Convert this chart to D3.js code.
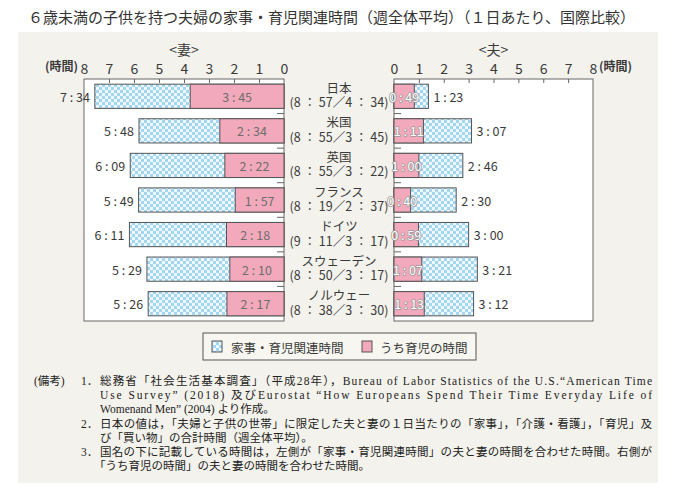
<!DOCTYPE html>
<html>
<head><meta charset="utf-8">
<title>家事・育児関連時間 国際比較</title>
<style>
body { margin:0; background:#fff; }
svg text { font-family:"Noto Sans CJK JP","Noto Sans",sans-serif; }
.note { font-family:"Liberation Serif","Noto Sans CJK JP",serif; }
</style>
</head>
<body>
<svg width="690" height="489"></svg>
<script src="https://d3js.org/d3.v7.min.js"></script>
<script>
// 国名と、その下の合計（家事・育児関連時間 / うち育児の時間）
var countries = ["日本", "米国", "英国", "フランス", "ドイツ", "スウェーデン", "ノルウェー"];
var coupleSums = ["8：57／4：34", "8：55／3：45", "8：55／3：22", "8：19／2：37",
                  "9：11／3：17", "8：50／3：17", "8：38／3：30"];
// 妻
var wifeTotal = ["7:34", "5:48", "6:09", "5:49", "6:11", "5:29", "5:26"];
var wifeChild = ["3:45", "2:34", "2:22", "1:57", "2:18", "2:10", "2:17"];
// 夫
var husbandTotal = ["1:23", "3:07", "2:46", "2:30", "3:00", "3:21", "3:12"];
var husbandChild = ["0:49", "1:11", "1:00", "0:40", "0:59", "1:07", "1:13"];
var hourTicks = [0, 1, 2, 3, 4, 5, 6, 7, 8];
var legendLabels = ["家事・育児関連時間", "うち育児の時間"];

var notes = [
  {num: "1．", text: "総務省「社会生活基本調査」（平成28年），Bureau of Labor Statistics of the U.S.“American Time", full: true},
  {num: "", text: "Use Survey” (2018) 及びEurostat “How Europeans Spend Their Time Everyday Life of", full: true},
  {num: "", text: "Womenand Men” (2004) より作成。", full: false},
  {num: "2．", text: "日本の値は，「夫婦と子供の世帯」に限定した夫と妻の１日当たりの「家事」，「介護・看護」，「育児」及", full: true},
  {num: "", text: "び「買い物」の合計時間（週全体平均）。", full: false},
  {num: "3．", text: "国名の下に記載している時間は，左側が「家事・育児関連時間」の夫と妻の時間を合わせた時間。右側が", full: true},
  {num: "", text: "「うち育児の時間」の夫と妻の時間を合わせた時間。", full: false, indent: -6}
];

function hours(s) { var p = s.split(":"); return +p[0] + p[1] / 60; }
function label(s) { var p = s.split(":"); return p[0] + " : " + p[1]; }

var pink = "#f2a9bb", edge = "#555", txt = "#3a3a3a";

var svg = d3.select("svg");
var defs = svg.append("defs");
var pat = defs.append("pattern").attr("id", "chk")
  .attr("width", 6).attr("height", 6).attr("patternUnits", "userSpaceOnUse");
pat.append("rect").attr("width", 6).attr("height", 6).attr("fill", "#eef8fe");
pat.append("rect").attr("width", 3).attr("height", 3).attr("fill", "#a3d6f1");
pat.append("rect").attr("x", 3).attr("y", 3).attr("width", 3).attr("height", 3).attr("fill", "#a3d6f1");

// panel
svg.append("rect").attr("x", 18).attr("y", 32).attr("width", 640).attr("height", 451)
  .attr("fill", "#f4f2ec");

svg.append("text").attr("x", 28).attr("y", 23).attr("font-size", 15).attr("fill", "#333")
  .text("６歳未満の子供を持つ夫婦の家事・育児関連時間（週全体平均）（１日あたり、国際比較）");

var plotTop = 79, plotBottom = 321;
var xW = d3.scaleLinear().domain([0, 8]).range([284, 84]);
var xH = d3.scaleLinear().domain([0, 8]).range([394, 593]);
var y = d3.scaleBand().domain(countries).range([plotTop, plotBottom])
  .paddingInner(0.3).paddingOuter(0.15);

function panel(x, title, unitX, unitAnchor) {
  var r = x.range();
  var x0 = Math.min(r[0], r[1]), x1 = Math.max(r[0], r[1]);
  svg.append("rect").attr("x", x0).attr("y", plotTop).attr("width", x1 - x0).attr("height", plotBottom - plotTop)
    .attr("fill", "#fff").attr("stroke", "#666").attr("stroke-width", 1);

  // hour labels
  var lab = svg.append("g").attr("transform", "translate(0," + (plotTop - 5) + ")")
    .call(d3.axisTop(x).tickValues(hourTicks).tickSize(0).tickPadding(0).tickFormat(d3.format("d")));
  lab.select(".domain").remove();
  lab.attr("font-family", null);
  lab.selectAll("text").attr("font-size", 14).attr("fill", txt);

  // inner ticks
  var tk = svg.append("g").attr("transform", "translate(0," + plotTop + ")")
    .call(d3.axisBottom(x).tickValues(hourTicks.slice(1, -1)).tickSize(4).tickFormat(""));
  tk.select(".domain").remove();
  tk.selectAll("line").attr("stroke", "#666");

  svg.append("text").attr("x", (x0 + x1) / 2).attr("y", 55).attr("text-anchor", "middle")
    .attr("font-size", 14).attr("fill", txt).text(title);
  svg.append("text").attr("x", unitX).attr("y", 71).attr("text-anchor", unitAnchor)
    .attr("font-size", 12).attr("font-weight", "bold").attr("fill", txt).text("(時間)");

  // band boundary ticks on the zero line
  var dir = x(1) > x(0) ? 1 : -1;
  svg.append("g").selectAll("line").data(countries.slice(1)).join("line")
    .attr("x1", x(0)).attr("x2", x(0) + dir * 7)
    .attr("y1", function(d) { return y(d) - y.step() * y.paddingInner() / 2; })
    .attr("y2", function(d) { return y(d) - y.step() * y.paddingInner() / 2; })
    .attr("stroke", "#666");
}

panel(xW, "<妻>", 78, "end");
panel(xH, "<夫>", 599, "start");

function bars(x, total, child, side) {
  var g = svg.append("g");
  var dir = x(1) > x(0) ? 1 : -1;
  countries.forEach(function(c, i) {
    var t = hours(total[i]), k = hours(child[i]);
    var yb = y(c), h = y.bandwidth();
    g.append("rect").attr("x", Math.min(x(0), x(t))).attr("y", yb)
      .attr("width", Math.abs(x(t) - x(0))).attr("height", h)
      .attr("fill", "url(#chk)").attr("stroke", edge);
    g.append("rect").attr("x", Math.min(x(0), x(k))).attr("y", yb)
      .attr("width", Math.abs(x(k) - x(0))).attr("height", h)
      .attr("fill", pink).attr("stroke", edge);
    g.append("text").attr("x", x(t) + dir * 5).attr("y", yb + h / 2)
      .attr("dominant-baseline", "central").attr("text-anchor", dir > 0 ? "start" : "end")
      .attr("font-size", 12.5).attr("fill", txt).text(label(total[i]));
    var inner = g.append("text").attr("x", (x(0) + x(k)) / 2).attr("y", yb + h / 2)
      .attr("dominant-baseline", "central").attr("text-anchor", "middle")
      .attr("font-size", 12.5).text(label(child[i]));
    if (side === "w") inner.attr("fill", "#6e6e6e");
    else inner.attr("fill", "#fff").attr("stroke", "#9a9a9a").attr("stroke-width", 1.6)
      .attr("paint-order", "stroke").attr("stroke-linejoin", "round");
  });
}

bars(xW, wifeTotal, wifeChild, "w");
bars(xH, husbandTotal, husbandChild, "h");

// country names in the middle
var mid = (xW(0) + xH(0)) / 2;
var cg = svg.append("g");
countries.forEach(function(c, i) {
  var cy = y(c) + y.bandwidth() / 2;
  cg.append("text").attr("x", mid).attr("y", cy - 9).attr("text-anchor", "middle")
    .attr("dominant-baseline", "central").attr("font-size", 12.5).attr("fill", txt).text(c);
  cg.append("text").attr("x", mid).attr("y", cy + 5.5).attr("text-anchor", "middle")
    .attr("dominant-baseline", "central").attr("font-size", 12.5).attr("fill", txt)
    .text("(" + coupleSums[i].replace(/：/g, " ： ") + ")");
});

// legend
var lg = svg.append("g");
lg.append("rect").attr("x", 203).attr("y", 333).attr("width", 273).attr("height", 27)
  .attr("fill", "#f7f6f1").attr("stroke", "#555");
lg.append("rect").attr("x", 212).attr("y", 341).attr("width", 10).attr("height", 11)
  .attr("fill", "url(#chk)").attr("stroke", edge);
lg.append("text").attr("x", 231).attr("y", 347).attr("dominant-baseline", "central")
  .attr("font-size", 12.5).attr("fill", txt).text(legendLabels[0]);
lg.append("rect").attr("x", 362).attr("y", 341).attr("width", 10).attr("height", 11)
  .attr("fill", pink).attr("stroke", edge);
lg.append("text").attr("x", 380).attr("y", 347).attr("dominant-baseline", "central")
  .attr("font-size", 12.5).attr("fill", txt).text(legendLabels[1]);

// notes
var ng = svg.append("g").attr("fill", "#222").attr("font-size", 11.5);
ng.append("text").attr("class", "note").attr("x", 34).attr("y", 385).text("(備考)");
notes.forEach(function(n, i) {
  var yy = 385 + i * 14.2;
  if (n.num) ng.append("text").attr("class", "note").attr("x", 81).attr("y", yy).text(n.num);
  var t = ng.append("text").attr("class", "note").attr("x", 100 + (n.indent || 0)).attr("y", yy).text(n.text);
  if (n.full) t.attr("textLength", 552).attr("lengthAdjust", "spacing");
});
</script>
</body>
</html>
